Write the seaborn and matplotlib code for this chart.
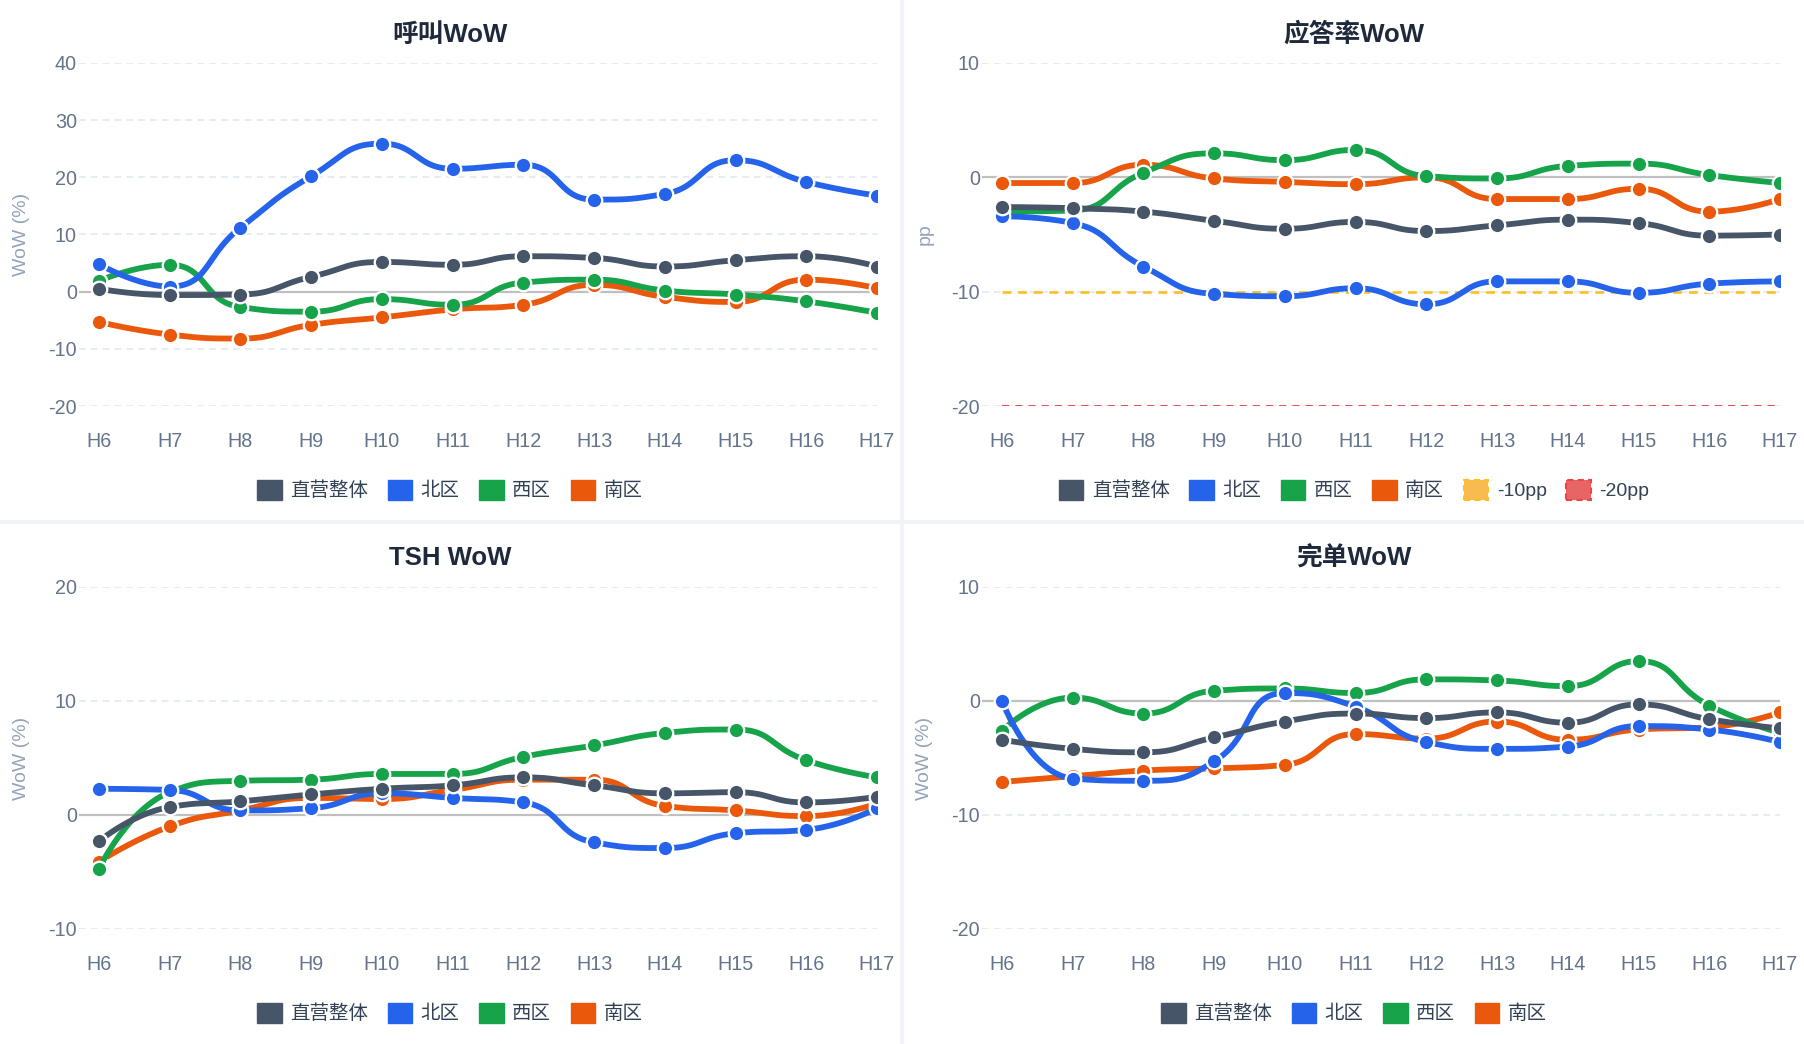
import numpy as np
import pandas as pd
import matplotlib
matplotlib.use("Agg")
import matplotlib.pyplot as plt
import seaborn as sns
from matplotlib.patches import Rectangle, Patch

# ---------------- data ----------------
hours = ["H6", "H7", "H8", "H9", "H10", "H11", "H12", "H13", "H14", "H15", "H16", "H17"]
series_names = ["直营整体", "北区", "西区", "南区"]
series_colors = ["#475569", "#2563eb", "#16a34a", "#ea580c"]

call_total = [0.5, -0.6, -0.5, 2.6, 5.2, 4.7, 6.2, 5.9, 4.4, 5.5, 6.2, 4.4]
call_north = [4.8, 0.9, 11.2, 20.2, 25.9, 21.5, 22.2, 16.1, 17.1, 23.0, 19.2, 16.8]
call_west = [1.9, 4.7, -2.7, -3.5, -1.3, -2.3, 1.6, 2.1, 0.2, -0.5, -1.7, -3.7]
call_south = [-5.3, -7.5, -8.2, -5.8, -4.5, -3.1, -2.3, 1.2, -0.9, -1.8, 2.1, 0.6]

ans_total = [-2.6, -2.7, -3.0, -3.8, -4.5, -3.9, -4.7, -4.2, -3.7, -4.0, -5.1, -5.0]
ans_north = [-3.4, -4.0, -7.8, -10.2, -10.4, -9.7, -11.1, -9.1, -9.1, -10.1, -9.3, -9.1]
ans_west = [-3.0, -2.9, 0.4, 2.1, 1.5, 2.4, 0.1, -0.1, 1.0, 1.2, 0.2, -0.5]
ans_south = [-0.5, -0.5, 1.1, -0.1, -0.4, -0.6, 0.0, -1.9, -1.9, -1.0, -3.0, -1.9]
ans_refs = [-10, -20]
ans_ref_labels = ["-10pp", "-20pp"]

tsh_total = [-2.3, 0.7, 1.2, 1.8, 2.3, 2.6, 3.3, 2.6, 1.9, 2.0, 1.1, 1.6]
tsh_north = [2.3, 2.2, 0.4, 0.6, 1.9, 1.5, 1.1, -2.4, -2.9, -1.6, -1.3, 0.6]
tsh_west = [-4.7, 2.0, 3.0, 3.1, 3.6, 3.6, 5.1, 6.1, 7.2, 7.5, 4.8, 3.3]
tsh_south = [-4.1, -1.0, 0.4, 1.5, 1.4, 2.2, 3.1, 3.1, 0.8, 0.4, -0.1, 1.0]

done_total = [-3.4, -4.2, -4.5, -3.2, -1.8, -1.1, -1.5, -1.0, -1.9, -0.3, -1.6, -2.4]
done_north = [0.0, -6.8, -7.0, -5.3, 0.7, -0.5, -3.6, -4.2, -4.0, -2.2, -2.5, -3.6]
done_west = [-2.6, 0.3, -1.1, 0.9, 1.1, 0.7, 1.9, 1.8, 1.3, 3.5, -0.4, -2.8]
done_south = [-7.1, -6.6, -6.1, -5.9, -5.6, -2.9, -3.3, -1.8, -3.4, -2.5, -2.3, -1.0]

titles = ["呼叫WoW", "应答率WoW", "TSH WoW", "完单WoW"]
ylabels = ["WoW (%)", "pp", "WoW (%)", "WoW (%)"]
yticks_list = [[-20, -10, 0, 10, 20, 30, 40], [-20, -10, 0, 10], [-10, 0, 10, 20], [-20, -10, 0, 10]]

# ---------------- style ----------------
sns.set_theme(style="white")
plt.rcParams["font.family"] = ["Liberation Sans", "Noto Sans CJK SC", "DejaVu Sans"]

W, H = 1804, 1044
fig = plt.figure(figsize=(W / 100, H / 100), dpi=100)
fig.patch.set_facecolor("#f0f3f8")

# white panels
panels = [(0, 0, 900, 520), (904, 0, 900, 520), (0, 524, 900, 520), (904, 524, 900, 520)]
for (px, py, pw, ph) in panels:
    fig.patches.append(Rectangle((px / W, 1 - (py + ph) / H), pw / W, ph / H,
                                 transform=fig.transFigure, facecolor="white",
                                 edgecolor="none", zorder=-10))

axes_px = [(79, 877, 63, 406), (982, 1780, 63, 406), (79, 877, 587, 929), (982, 1780, 587, 929)]
PT = 72 / 100  # points per pixel


def echarts_smooth(xp, yp, smooth=0.5, n=30):
    N = len(xp)
    ox, oy = [xp[0]], [yp[0]]
    c0 = (xp[0], yp[0])
    for i in range(1, N):
        x, y = xp[i], yp[i]
        px, py = xp[i - 1], yp[i - 1]
        if i == N - 1:
            c1 = (x, y)
            nc0 = None
        else:
            nx, ny = xp[i + 1], yp[i + 1]
            vx, vy = nx - px, ny - py
            lp = np.hypot(x - px, y - py)
            ln = np.hypot(nx - x, ny - y)
            r = ln / (ln + lp)
            ncx = x + vx * smooth * r
            ncy = y + vy * smooth * r
            ncx = min(ncx, max(nx, x)); ncy = min(ncy, max(ny, y))
            ncx = max(ncx, min(nx, x)); ncy = max(ncy, min(ny, y))
            vx, vy = ncx - x, ncy - y
            c1x = x - vx * lp / ln; c1y = y - vy * lp / ln
            c1x = min(c1x, max(px, x)); c1y = min(c1y, max(py, y))
            c1x = max(c1x, min(px, x)); c1y = max(c1y, min(py, y))
            vx, vy = x - c1x, y - c1y
            ncx = x + vx * ln / lp; ncy = y + vy * ln / lp
            c1 = (c1x, c1y)
            nc0 = (ncx, ncy)
        t = np.linspace(0, 1, n)[1:]
        bx = (1 - t) ** 3 * px + 3 * (1 - t) ** 2 * t * c0[0] + 3 * (1 - t) * t ** 2 * c1[0] + t ** 3 * x
        by = (1 - t) ** 3 * py + 3 * (1 - t) ** 2 * t * c0[1] + 3 * (1 - t) * t ** 2 * c1[1] + t ** 3 * y
        ox.extend(bx); oy.extend(by)
        c0 = nc0
    return np.array(ox), np.array(oy)


all_series = [
    [call_total, call_north, call_west, call_south],
    [ans_total, ans_north, ans_west, ans_south],
    [tsh_total, tsh_north, tsh_west, tsh_south],
    [done_total, done_north, done_west, done_south],
]

xpos = np.arange(len(hours))
for k in range(4):
    l, r, t, b = axes_px[k]
    ax = fig.add_axes([l / W, 1 - b / H, (r - l) / W, (b - t) / H])
    ax.set_facecolor("none")
    yt = yticks_list[k]
    ymin, ymax = yt[0], yt[-1]
    xmin, xmax = -0.283, 11
    ax.set_xlim(xmin, xmax)
    ax.set_ylim(ymin, ymax)
    sx = (r - l) / (xmax - xmin)
    sy = (b - t) / (ymax - ymin)
    for v in yt:
        if v != 0:
            ax.axhline(v, color="#e2e8f0", lw=1.6 * PT, ls=(0, (4.2, 3.2)), zorder=1)
    ax.axhline(0, color="#bfbfbf", lw=2.2 * PT, zorder=1.5)

    if k == 1:
        ax.plot([0, 11], [ans_refs[0]] * 2, color="#fbbf24", lw=2.6 * PT, ls=(0, (3.4, 2.6)), zorder=1.8)
        ax.plot([0, 11], [ans_refs[1]] * 2, color="#e55353", lw=2.0 * PT, ls=(0, (3.6, 3.0)), zorder=1.8)

    # draw in reverse order so 直营整体 is on top
    for j in reversed(range(4)):
        vals = np.array(all_series[k][j], dtype=float)
        cx, cy = echarts_smooth(xpos * sx, vals * sy)
        df_line = pd.DataFrame({"x": cx / sx, "y": cy / sy})
        sns.lineplot(data=df_line, x="x", y="y", ax=ax, sort=False, estimator=None,
                     color=series_colors[j], lw=5.8 * PT, zorder=3 + 2 * (3 - j),
                     solid_capstyle="round")
        df_pts = pd.DataFrame({"x": xpos, "y": vals})
        sns.scatterplot(data=df_pts, x="x", y="y", ax=ax, color=series_colors[j],
                        s=(15.5 * PT) ** 2, edgecolor="white", linewidth=2.3 * PT,
                        zorder=4 + 2 * (3 - j))

    ax.set_xticks(xpos)
    ax.set_xticklabels(hours)
    ax.set_yticks(yt)
    ax.set_yticklabels([str(v) for v in yt])
    ax.tick_params(axis="x", length=0, pad=18.5, labelsize=14.2, labelcolor="#64748b")
    ax.tick_params(axis="y", length=0, pad=1.5, labelsize=14.2, labelcolor="#64748b")
    ax.set_xlabel("")
    ax.set_ylabel("")
    for s in ax.spines.values():
        s.set_visible(False)
    ax.grid(False)

    px0, py0, pw, ph = panels[k]
    cxp = px0 + pw / 2
    title_y = 35 if k < 2 else 558
    fig.text(cxp / W, 1 - title_y / H, titles[k], ha="center", va="center",
             fontsize=18.5, fontweight="bold", color="#1e293b")
    fig.text((px0 + 21) / W, 1 - ((t + b) / 2) / H, ylabels[k], rotation=90,
             ha="center", va="center", fontsize=14, color="#94a3b8")

    handles = [Patch(facecolor=c, edgecolor=c, label=n) for c, n in zip(series_colors, series_names)]
    if k == 1:
        handles.append(Patch(facecolor="#f8bb50", edgecolor="#fbbf24", linestyle=(0, (3, 2)),
                             linewidth=1.5, label=ans_ref_labels[0]))
        handles.append(Patch(facecolor="#e86565", edgecolor="#ef4444", linestyle=(0, (3, 2)),
                             linewidth=1.5, label=ans_ref_labels[1]))
    leg_y = 490 if k < 2 else 1013
    fig.legend(handles=handles, loc="center", bbox_to_anchor=(cxp / W, 1 - leg_y / H),
               ncol=len(handles), frameon=False, fontsize=14, handlelength=1.25,
               handleheight=1.25, handletextpad=0.45, columnspacing=1.0,
               labelcolor="#334155", borderaxespad=0)

fig.savefig("out.png", dpi=100, facecolor=fig.get_facecolor())
